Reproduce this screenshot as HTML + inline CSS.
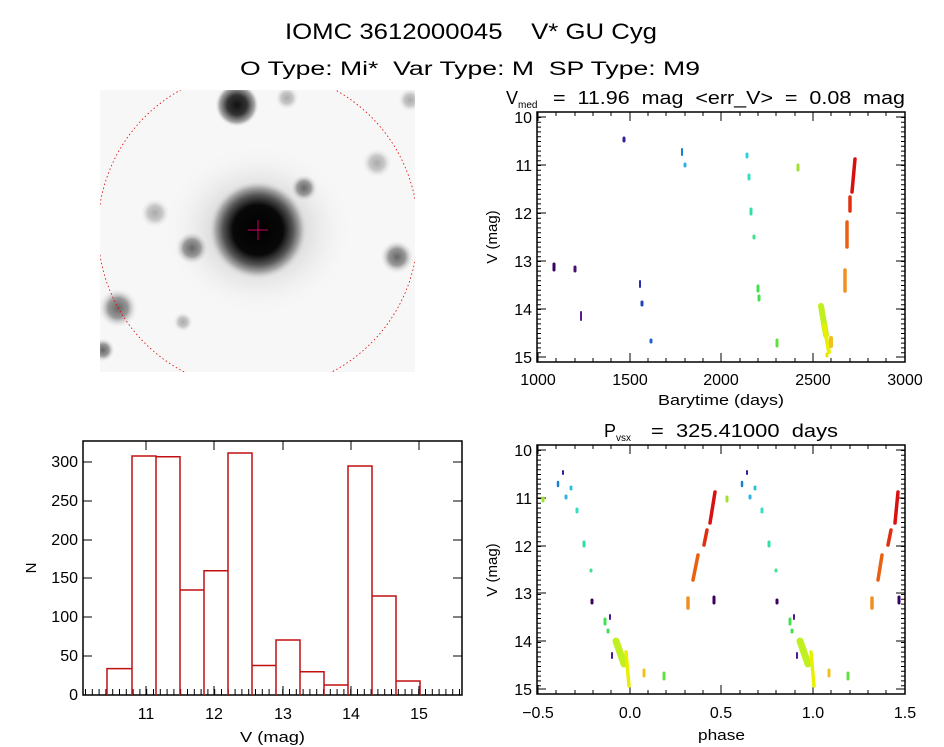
<!DOCTYPE html>
<html><head><meta charset="utf-8"><style>
html,body{margin:0;padding:0;background:#fff;}
svg{display:block;}
text{font-family:"Liberation Sans","DejaVu Sans",sans-serif;fill:#000;white-space:pre;}
</style></head><body>
<svg width="944" height="747" viewBox="0 0 944 747" xmlns="http://www.w3.org/2000/svg">
<defs>
<radialGradient id="star" cx="0.5" cy="0.5" r="0.5">
<stop offset="0" stop-color="#000"/><stop offset="0.5" stop-color="#080808"/><stop offset="0.7" stop-color="#555"/><stop offset="0.85" stop-color="#aaa"/><stop offset="1" stop-color="#eee" stop-opacity="0"/></radialGradient>
<radialGradient id="dk" cx="0.5" cy="0.5" r="0.5">
<stop offset="0" stop-color="#111"/><stop offset="0.45" stop-color="#333"/><stop offset="0.8" stop-color="#aaa"/><stop offset="1" stop-color="#f5f5f5" stop-opacity="0"/></radialGradient>
<radialGradient id="sm" cx="0.5" cy="0.5" r="0.5">
<stop offset="0" stop-color="#666"/><stop offset="0.5" stop-color="#999"/><stop offset="1" stop-color="#f5f5f5" stop-opacity="0"/></radialGradient>
<radialGradient id="lt" cx="0.5" cy="0.5" r="0.5">
<stop offset="0" stop-color="#aaa"/><stop offset="0.5" stop-color="#c8c8c8"/><stop offset="1" stop-color="#f5f5f5" stop-opacity="0"/></radialGradient>
<radialGradient id="halo" cx="0.5" cy="0.5" r="0.5">
<stop offset="0" stop-color="#999"/><stop offset="1" stop-color="#f5f5f5" stop-opacity="0"/></radialGradient>
<clipPath id="ic"><rect x="100" y="90" width="315" height="282"/></clipPath>
</defs>
<!-- titles -->
<text x="285" y="39" font-size="22" textLength="372" lengthAdjust="spacingAndGlyphs">IOMC 3612000045    V* GU Cyg</text>
<text x="240" y="75" font-size="19" textLength="460" lengthAdjust="spacingAndGlyphs">O Type: Mi*  Var Type: M  SP Type: M9</text>

<!-- image -->
<g clip-path="url(#ic)">
<rect x="100" y="90" width="315" height="282" fill="#f7f7f7"/>
<ellipse cx="258" cy="230" rx="95" ry="85" fill="url(#halo)"/>
<circle cx="258" cy="230" r="50" fill="url(#star)"/>
<circle cx="237" cy="105" r="22" fill="url(#dk)"/>
<circle cx="304" cy="188" r="14" fill="url(#sm)"/>
<circle cx="192" cy="248" r="17" fill="url(#sm)"/>
<circle cx="118" cy="308" r="20" fill="url(#sm)"/>
<circle cx="397" cy="257" r="17" fill="url(#sm)"/>
<circle cx="377" cy="163" r="15" fill="url(#lt)"/>
<circle cx="155" cy="213" r="15" fill="url(#lt)"/>
<circle cx="287" cy="98" r="12" fill="url(#lt)"/>
<circle cx="183" cy="322" r="10" fill="url(#lt)"/>
<circle cx="410" cy="100" r="12" fill="url(#lt)"/>
<circle cx="103" cy="350" r="12" fill="url(#sm)"/>
<circle cx="258" cy="230" r="160" fill="none" stroke="#d00" stroke-width="0.8" stroke-dasharray="1.5,2.5"/>
</g>
<path d="M248 230h20M258 220v20" stroke="#c06" stroke-width="1"/>

<!-- TOP RIGHT -->
<rect x="537" y="112" width="368" height="250" fill="none" stroke="#000" stroke-width="1.5"/>
<g stroke="#000" stroke-width="1">
<path d="M538 362v-9M630 362v-9M721 362v-9M813 362v-9M905 362v-9M538 112v9M630 112v9M721 112v9M813 112v9M905 112v9
M556 362v-4M575 362v-4M593 362v-4M611 362v-4M648 362v-4M666 362v-4M685 362v-4M703 362v-4M740 362v-4M758 362v-4M776 362v-4M795 362v-4M831 362v-4M850 362v-4M868 362v-4M886 362v-4
M556 112v4M575 112v4M593 112v4M611 112v4M648 112v4M666 112v4M685 112v4M703 112v4M740 112v4M758 112v4M776 112v4M795 112v4M831 112v4M850 112v4M868 112v4M886 112v4
M537 117h9M537 165h9M537 213h9M537 261h9M537 309h9M537 357h9M905 117h-9M905 165h-9M905 213h-9M905 261h-9M905 309h-9M905 357h-9"/>
</g>
<path d="M537 117 V357" stroke="#000" stroke-width="4" stroke-dasharray="1,3.8" fill="none" transform="translate(2,0)"/>
<path d="M905 117 V357" stroke="#000" stroke-width="4" stroke-dasharray="1,3.8" fill="none" transform="translate(-2,0)"/>
<g font-size="16" text-anchor="middle">
<text x="538" y="385">1000</text><text x="630" y="385">1500</text><text x="721" y="385">2000</text><text x="813" y="385">2500</text><text x="905" y="385">3000</text>
</g>
<text x="658" y="405" font-size="15" textLength="126" lengthAdjust="spacingAndGlyphs">Barytime (days)</text>
<g font-size="16" text-anchor="end">
<text x="532" y="123">10</text><text x="532" y="171">11</text><text x="532" y="219">12</text><text x="532" y="267">13</text><text x="532" y="315">14</text><text x="532" y="363">15</text>
</g>
<text transform="translate(497,237) rotate(-90)" font-size="15" text-anchor="middle">V (mag)</text>
<text x="506" y="104" font-size="18">V</text><text x="518" y="108" font-size="10">med</text>
<text x="553" y="104" font-size="18" textLength="352" lengthAdjust="spacingAndGlyphs">=  11.96  mag  &lt;err_V&gt;  =  0.08  mag</text>
<g stroke-linecap="round" fill="none">
<path d="M554 264v6" stroke="#3a0060" stroke-width="3"/>
<path d="M575 267v4" stroke="#4a1070" stroke-width="3"/>
<path d="M581 312v8" stroke="#5a1a90" stroke-width="2"/>
<path d="M624 138v3" stroke="#3020a0" stroke-width="3"/>
<path d="M640 281v6" stroke="#2a30b0" stroke-width="2"/>
<path d="M642 302v3" stroke="#2040c0" stroke-width="3"/>
<path d="M651 340v2" stroke="#2060d0" stroke-width="3"/>
<path d="M682 149v6" stroke="#1a80d0" stroke-width="2"/>
<path d="M685 164v2" stroke="#30b0e0" stroke-width="3"/>
<path d="M747 154v3" stroke="#30d0e0" stroke-width="3"/>
<path d="M749 175v4" stroke="#30e0c0" stroke-width="3"/>
<path d="M751 209v5" stroke="#30e0a0" stroke-width="3"/>
<path d="M754 236v2" stroke="#40e090" stroke-width="3"/>
<path d="M758 286v5M759 296v4" stroke="#40e050" stroke-width="3"/>
<path d="M777 340v6" stroke="#60e040" stroke-width="3"/>
<path d="M798 165v5" stroke="#a0e030" stroke-width="3"/>
<path d="M821 306L826 335" stroke="#c0f020" stroke-width="6"/>
<path d="M824 325L829 352" stroke="#e8f000" stroke-width="4"/>
<path d="M827 354v2" stroke="#f0e000" stroke-width="3"/>
<path d="M831 338v8" stroke="#f0c020" stroke-width="4"/>
<path d="M845 270v21" stroke="#f09020" stroke-width="3.5"/>
<path d="M847 222v25" stroke="#e86010" stroke-width="3.5"/>
<path d="M850 197v14" stroke="#e03010" stroke-width="3.5"/>
<path d="M852 192L855 159" stroke="#d81010" stroke-width="3.5"/>
</g>

<!-- HISTOGRAM -->
<rect x="83" y="441" width="379" height="254" fill="none" stroke="#000" stroke-width="1.5"/>
<g stroke="#000" stroke-width="1">
<path d="M146 695v-9M214 695v-9M283 695v-9M351 695v-9M419 695v-9M146 441v9M214 441v9M283 441v9M351 441v9M419 441v9
M83 695h9M83 656h9M83 617h9M83 578h9M83 540h9M83 501h9M83 462h9M462 695h-9M462 656h-9M462 617h-9M462 578h-9M462 540h-9M462 501h-9M462 462h-9"/>
</g>
<path d="M85 695H462" stroke="#000" stroke-width="6" stroke-dasharray="1,5.8" transform="translate(0,-3)"/>
<g font-size="16" text-anchor="middle">
<text x="146" y="719">11</text><text x="214" y="719">12</text><text x="283" y="719">13</text><text x="351" y="719">14</text><text x="419" y="719">15</text>
</g>
<text x="240" y="742" font-size="15" textLength="65" lengthAdjust="spacingAndGlyphs">V (mag)</text>
<g font-size="16" text-anchor="end">
<text x="78" y="700">0</text><text x="78" y="661">50</text><text x="78" y="622">100</text><text x="78" y="583">150</text><text x="78" y="545">200</text><text x="78" y="506">250</text><text x="78" y="467">300</text>
</g>
<text transform="translate(36,568) rotate(-90)" font-size="15" text-anchor="middle">N</text>
<g fill="none" stroke="#c01010" stroke-width="1.5">
<path d="M107 695V668.6H132V695M132 695V456H156V695M156 695V456.8H180V695M180 695V590H204V695M204 695V570.7H228V695M228 695V453H252V695M252 695V665.5H276V695M276 695V640H300V695M300 695V671.7H324V695M324 695V685H348V695M348 695V466H372V695M372 695V596H396V695M396 695V681H420V695"/>
</g>

<!-- BOTTOM RIGHT -->
<rect x="537" y="445" width="368" height="249" fill="none" stroke="#000" stroke-width="1.5"/>
<g stroke="#000" stroke-width="1">
<path d="M538 694v-9M630 694v-9M721 694v-9M813 694v-9M905 694v-9M538 445v9M630 445v9M721 445v9M813 445v9M905 445v9
M556 694v-4M575 694v-4M593 694v-4M611 694v-4M648 694v-4M666 694v-4M685 694v-4M703 694v-4M740 694v-4M758 694v-4M776 694v-4M795 694v-4M831 694v-4M850 694v-4M868 694v-4M886 694v-4
M556 445v4M575 445v4M593 445v4M611 445v4M648 445v4M666 445v4M685 445v4M703 445v4M740 445v4M758 445v4M776 445v4M795 445v4M831 445v4M850 445v4M868 445v4M886 445v4
M537 450h9M537 498h9M537 546h9M537 593h9M537 641h9M537 689h9M905 450h-9M905 498h-9M905 546h-9M905 593h-9M905 641h-9M905 689h-9"/>
</g>
<path d="M537 450 V689" stroke="#000" stroke-width="4" stroke-dasharray="1,3.8" fill="none" transform="translate(2,0)"/>
<path d="M905 450 V689" stroke="#000" stroke-width="4" stroke-dasharray="1,3.8" fill="none" transform="translate(-2,0)"/>
<g font-size="16" text-anchor="middle">
<text x="538" y="718">−0.5</text><text x="630" y="718">0.0</text><text x="721" y="718">0.5</text><text x="813" y="718">1.0</text><text x="905" y="718">1.5</text>
</g>
<text x="698" y="740" font-size="15" textLength="47" lengthAdjust="spacingAndGlyphs">phase</text>
<g font-size="16" text-anchor="end">
<text x="532" y="456">10</text><text x="532" y="504">11</text><text x="532" y="552">12</text><text x="532" y="599">13</text><text x="532" y="647">14</text><text x="532" y="695">15</text>
</g>
<text transform="translate(497,570) rotate(-90)" font-size="15" text-anchor="middle">V (mag)</text>
<text x="604" y="437" font-size="18">P</text><text x="616" y="441" font-size="10">vsx</text>
<text x="651" y="437" font-size="18" textLength="187" lengthAdjust="spacingAndGlyphs">=  325.41000  days</text>
<g stroke-linecap="round" fill="none">
<path d="M543 498v3M727 497v4" stroke="#a0e030" stroke-width="3"/>
<path d="M563 471v3M747 471v3" stroke="#3020a0" stroke-width="2"/>
<path d="M558 482v4M742 482v4" stroke="#1a80d0" stroke-width="2.5"/>
<path d="M571 487v2M755 487v2" stroke="#30c0e0" stroke-width="3"/>
<path d="M566 496v2M750 496v2" stroke="#30b0e0" stroke-width="3"/>
<path d="M577 509v3M762 509v3" stroke="#30e0c0" stroke-width="3"/>
<path d="M584 542v4M769 542v4" stroke="#30e0a0" stroke-width="3"/>
<path d="M591 570v1M776 570v1" stroke="#40e090" stroke-width="3"/>
<path d="M592 600v3M777 600v3" stroke="#3a0060" stroke-width="3"/>
<path d="M605 619v5M790 619v5M608 630v2M792 630v2" stroke="#40e050" stroke-width="3"/>
<path d="M610 615v4M794 615v4M612 653v5M797 653v5" stroke="#4a1a90" stroke-width="2"/>
<path d="M616 641L624 664M800 641L808 664" stroke="#c0f020" stroke-width="7"/>
<path d="M626 652L629 686M811 652L814 686" stroke="#e8f000" stroke-width="3.5"/>
<path d="M644 670v6M829 670v6" stroke="#f0c020" stroke-width="3"/>
<path d="M664 673v6M848 673v6" stroke="#60e040" stroke-width="3"/>
<path d="M688 598v10M872 598v10" stroke="#f09020" stroke-width="3.5"/>
<path d="M693 580L698 555M878 580L882 555" stroke="#e86010" stroke-width="3.5"/>
<path d="M704 545L707 530M888 545L891 530" stroke="#e03010" stroke-width="3.5"/>
<path d="M710 523L715 492M895 523L898 492" stroke="#d81010" stroke-width="3.5"/>
<path d="M714 597v6M899 597v6" stroke="#3a0060" stroke-width="3"/>
</g>
</svg>
</body></html>
